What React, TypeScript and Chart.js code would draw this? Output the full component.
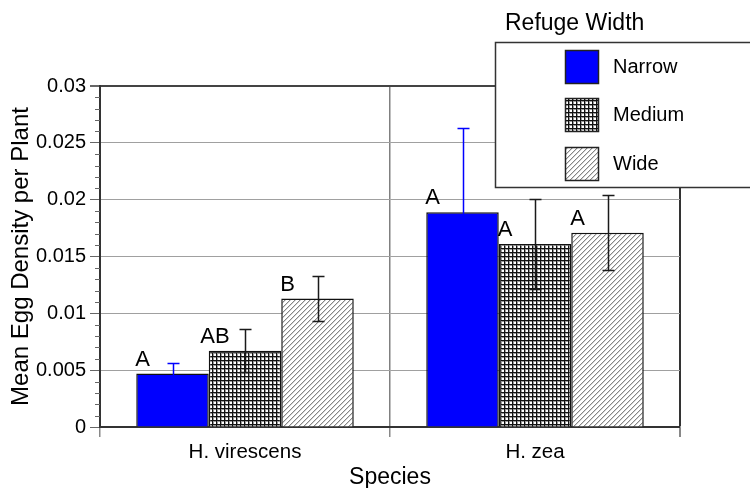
import React, { useEffect, useRef } from "react";
import { Chart, registerables } from "chart.js";

Chart.register(...registerables);

const categories = ["H. virescens", "H. zea"];
const seriesNames = ["Narrow", "Medium", "Wide"];
const narrowValues = [0.0047, 0.0189];
const mediumValues = [0.0067, 0.0161];
const wideValues = [0.0113, 0.0171];
const narrowErrors = [0.0009, 0.0074];
const mediumErrors = [0.0019, 0.004];
const wideErrors = [0.00195, 0.0033];
const narrowLetters = ["A", "A"];
const mediumLetters = ["AB", "A"];
const wideLetters = ["B", "A"];
const yTickLabels = ["0", "0.005", "0.01", "0.015", "0.02", "0.025", "0.03"];
const legendTitle = "Refuge Width";
const xTitle = "Species";
const yTitle = "Mean Egg Density per Plant";

const FONT = "'Liberation Sans', Arial, Helvetica, sans-serif";

function makeCrossPattern(): CanvasPattern | string {
  const c = document.createElement("canvas");
  c.width = 4;
  c.height = 4;
  const g = c.getContext("2d");
  if (!g) return "#888";
  g.fillStyle = "#ffffff";
  g.fillRect(0, 0, 4, 4);
  g.fillStyle = "#9a9a9a";
  g.fillRect(0, 1, 4, 1);
  g.fillRect(1, 0, 1, 4);
  g.fillStyle = "#111111";
  g.fillRect(0, 0, 4, 1);
  g.fillRect(0, 0, 1, 4);
  return g.createPattern(c, "repeat") as CanvasPattern;
}

function makeDiagPattern(): CanvasPattern | string {
  const c = document.createElement("canvas");
  c.width = 5;
  c.height = 5;
  const g = c.getContext("2d");
  if (!g) return "#ccc";
  g.fillStyle = "#ffffff";
  g.fillRect(0, 0, 5, 5);
  for (let x = 0; x < 5; x++) {
    g.fillStyle = "#d4d4d4";
    g.fillRect(x, (5 - x) % 5, 1, 1);
    g.fillStyle = "#858585";
    g.fillRect(x, 4 - x, 1, 1);
  }
  return g.createPattern(c, "repeat") as CanvasPattern;
}

export default function App() {
  const canvasRef = useRef<HTMLCanvasElement | null>(null);

  useEffect(() => {
    const canvas = canvasRef.current;
    if (!canvas) return;
    const cross = makeCrossPattern();
    const diag = makeDiagPattern();
    const fills = ["#0000ff", cross, diag];
    const errors = [narrowErrors, mediumErrors, wideErrors];
    const letters = [narrowLetters, mediumLetters, wideLetters];
    const errColors = ["#0000ff", "#1a1a1a", "#1a1a1a"];

    const overlay = {
      id: "overlay",
      afterDatasetsDraw(chart: any) {
        const ctx = chart.ctx;
        const yScale = chart.scales.y;
        ctx.save();
        chart.data.datasets.forEach((ds: any, di: number) => {
          const meta = chart.getDatasetMeta(di);
          meta.data.forEach((el: any, j: number) => {
            const v = ds.data[j];
            const e = errors[di][j];
            const yt = Math.round(yScale.getPixelForValue(v + e)) + 0.5;
            const yb = Math.round(yScale.getPixelForValue(v - e)) + 0.5;
            const x = Math.round(el.x) + 0.5;
            ctx.strokeStyle = errColors[di];
            ctx.lineWidth = 1.5;
            ctx.beginPath();
            ctx.moveTo(x, yt);
            ctx.lineTo(x, yb);
            ctx.moveTo(x - 6, yt);
            ctx.lineTo(x + 6, yt);
            ctx.moveTo(x - 6, yb);
            ctx.lineTo(x + 6, yb);
            ctx.stroke();
            ctx.fillStyle = "#000";
            ctx.font = `22px ${FONT}`;
            ctx.textAlign = "center";
            ctx.textBaseline = "alphabetic";
            ctx.fillText(letters[di][j], el.x - 30, el.y - 8);
          });
        });
        ctx.restore();
      },
      afterDraw(chart: any) {
        const ctx = chart.ctx;
        const yScale = chart.scales.y;
        const left = chart.chartArea.left;
        ctx.save();
        ctx.strokeStyle = "#666";
        ctx.lineWidth = 1;
        for (let i = 0; i <= 30; i++) {
          if (i % 5 === 0) continue;
          const y = Math.round(yScale.getPixelForValue(i * 0.001)) + 0.5;
          ctx.beginPath();
          ctx.moveTo(left - 5, y);
          ctx.lineTo(left, y);
          ctx.stroke();
        }
        const bx = 495.5, by = 42.5, bw = 262, bh = 145;
        ctx.fillStyle = "#fff";
        ctx.fillRect(bx, by, bw, bh);
        ctx.strokeStyle = "#333";
        ctx.lineWidth = 1.5;
        ctx.strokeRect(bx, by, bw, bh);
        ctx.fillStyle = "#000";
        ctx.font = `23px ${FONT}`;
        ctx.textAlign = "left";
        ctx.textBaseline = "alphabetic";
        ctx.fillText(legendTitle, 505, 30);
        const rows = [50, 98, 147];
        ctx.font = `20px ${FONT}`;
        seriesNames.forEach((name, i) => {
          ctx.fillStyle = fills[i] as any;
          ctx.fillRect(565, rows[i], 33, 33);
          ctx.strokeStyle = "#222";
          ctx.lineWidth = 1.5;
          ctx.strokeRect(565.5, rows[i] + 0.5, 33, 33);
          ctx.fillStyle = "#000";
          ctx.textBaseline = "middle";
          ctx.fillText(name, 613, rows[i] + 17);
        });
        ctx.restore();
      },
    };

    const chart = new Chart(canvas, {
      type: "bar",
      data: {
        labels: categories,
        datasets: [
          { label: seriesNames[0], data: narrowValues, backgroundColor: fills[0] as any },
          { label: seriesNames[1], data: mediumValues, backgroundColor: fills[1] as any },
          { label: seriesNames[2], data: wideValues, backgroundColor: fills[2] as any },
        ].map((d) => ({
          ...d,
          borderColor: "#111",
          borderWidth: 1.5,
          categoryPercentage: 0.75,
          barPercentage: 1.0,
        })),
      },
      options: {
        animation: false,
        responsive: false,
        maintainAspectRatio: false,
        events: [],
        layout: { padding: { top: 86, right: 70, left: 0, bottom: 0 } },
        plugins: {
          legend: { display: false },
          tooltip: { enabled: false },
          title: { display: false },
        },
        scales: {
          x: {
            type: "category",
            offset: true,
            afterFit: (s: any) => {
              s.height = 61;
            },
            grid: {
              offset: true,
              drawOnChartArea: true,
              tickLength: 10,
              color: (c: any) => (c.index === undefined ? "#333" : "#808080"),
              lineWidth: (c: any) => (c.index === undefined ? 2 : 1.5),
              tickColor: "#888",
            },
            border: { display: true, color: "#333", width: 2 },
            ticks: {
              color: "#000",
              font: { family: FONT, size: 20.5 },
              padding: 3,
            },
            title: {
              display: true,
              text: xTitle,
              color: "#000",
              font: { family: FONT, size: 23, lineHeight: 1.1 },
              padding: { top: 0, bottom: -2 },
            },
          },
          y: {
            type: "linear",
            min: 0,
            max: 0.03,
            afterFit: (s: any) => {
              s.width = 100;
            },
            ticks: {
              stepSize: 0.005,
              color: "#000",
              font: { family: FONT, size: 20 },
              padding: 4,
              callback: (_v: any, i: number) => yTickLabels[i],
            },
            grid: {
              tickLength: 10,
              tickColor: "#666",
              color: (c: any) =>
                c.tick && Math.abs(c.tick.value - 0.03) < 1e-9 ? "#444" : "#a0a0a0",
              lineWidth: (c: any) =>
                c.tick && Math.abs(c.tick.value - 0.03) < 1e-9 ? 2 : 1,
            },
            border: { display: true, color: "#333", width: 2 },
            title: {
              display: true,
              text: yTitle,
              color: "#000",
              font: { family: FONT, size: 24, lineHeight: 1.1 },
              padding: { top: 8, bottom: 0 },
            },
          },
        },
      },
      plugins: [overlay],
    });
    return () => chart.destroy();
  }, []);

  return (
    <div style={{ position: "fixed", left: 0, top: 0, width: 750, height: 488, background: "#fff" }}>
      <canvas ref={canvasRef} width={750} height={488} style={{ width: 750, height: 488, display: "block" }} />
    </div>
  );
}
